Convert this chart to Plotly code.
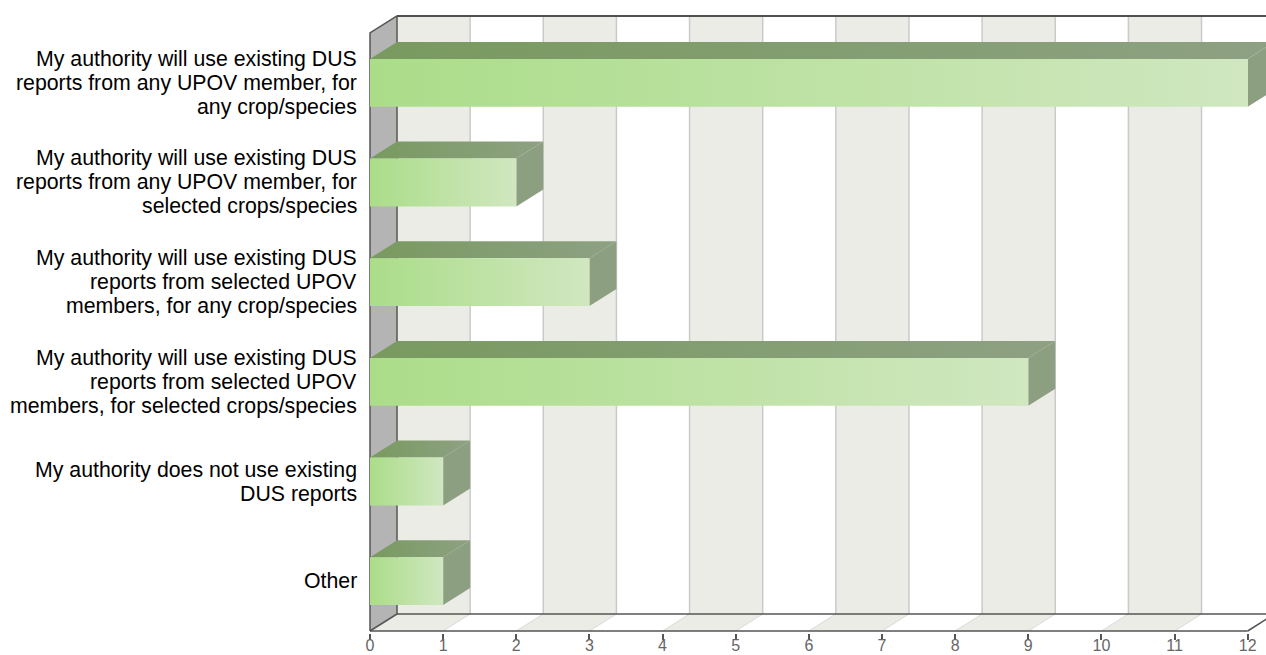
import plotly.graph_objects as go

# ---------------- data ----------------
categories = [
    "My authority will use existing DUS<br>reports from any UPOV member, for<br>any crop/species",
    "My authority will use existing DUS<br>reports from any UPOV member, for<br>selected crops/species",
    "My authority will use existing DUS<br>reports from selected UPOV<br>members, for any crop/species",
    "My authority will use existing DUS<br>reports from selected UPOV<br>members, for selected crops/species",
    "My authority does not use existing<br>DUS reports",
    "Other",
]
values = [12, 2, 3, 9, 1, 1]
x_ticks = list(range(0, 13))

# ---------------- geometry / style ----------------
W, HGT = 1266, 655
PX_X = 73.14          # px per x unit
PX_Y = 99.67          # px per category
DX = 27 / PX_X        # depth offset (x units)
DY = 17 / PX_Y        # depth offset (category units)
HALF = 0.24           # bar half height (category units)
N = len(categories)
XMAX = max(x_ticks)

ML, MR, MT, MB = 368, 0, 14, 22
X0_PX, Y0_PX = 370, 631   # pixel of data origin
x_range = [-(X0_PX - ML) / PX_X, (W - MR - X0_PX) / PX_X]
y_range = [-((HGT - MB) - Y0_PX) / PX_Y, (Y0_PX - MT) / PX_Y]

fig = go.Figure()


def poly(xs, ys, **kw):
    fig.add_trace(go.Scatter(x=list(xs) + [xs[0]], y=list(ys) + [ys[0]], mode="lines",
                             fill="toself", hoverinfo="skip", showlegend=False, **kw))


def lines(segs, color, width):
    xs, ys = [], []
    for (x0, y0, x1, y1) in segs:
        xs += [x0, x1, None]
        ys += [y0, y1, None]
    fig.add_trace(go.Scatter(x=xs, y=ys, mode="lines", line=dict(color=color, width=width),
                             hoverinfo="skip", showlegend=False))


BAND = "#ECECE6"
# back wall
poly([DX, XMAX + DX, XMAX + DX, DX], [DY, DY, N + DY, N + DY], fillcolor="white", line=dict(width=0))
for k in range(0, XMAX, 2):
    poly([k + DX, k + 1 + DX, k + 1 + DX, k + DX], [DY, DY, N + DY, N + DY],
         fillcolor=BAND, line=dict(width=0))
    # floor band
    poly([k, k + 1, k + 1 + DX, k + DX], [0, 0, DY, DY], fillcolor=BAND, line=dict(width=0))

# grid lines on wall and floor
lines([(k + DX, DY, k + DX, N + DY) for k in x_ticks[1:]], "#CACACA", 1.5)
lines([(k, 0, k + DX, DY) for k in x_ticks[1:-1]], "#DADADA", 1)

# left wall
poly([0, DX, DX, 0], [0, DY, N + DY, N], fillcolor="#B4B4B4", line=dict(color="#555555", width=1.5))

# frame lines
lines([(DX, N + DY, XMAX + DX, N + DY)], "#505050", 2)
lines([(DX, DY, XMAX + DX, DY), (0, 0, XMAX, 0), (XMAX, 0, XMAX + DX, DY)], "#555555", 1.5)

# bars
for i, v in enumerate(values):
    c = N - 0.5 - i
    # right face
    poly([v, v + DX, v + DX, v], [c - HALF, c - HALF + DY, c + HALF + DY, c + HALF],
         fillcolor="#8C9F81", line=dict(width=0))
    # top face
    poly([0, v, v + DX, DX], [c + HALF, c + HALF, c + HALF + DY, c + HALF + DY],
         fillgradient=dict(type="horizontal", colorscale=[[0, "#789A5F"], [1, "#8EA183"]]),
         line=dict(width=0))
    # front face
    poly([0, v, v, 0], [c - HALF, c - HALF, c + HALF, c + HALF],
         fillgradient=dict(type="horizontal", colorscale=[[0, "#ABDD89"], [1, "#D0E7C0"]]),
         line=dict(width=0))

# category labels (one annotation per line, right aligned, 24 px line spacing)
LINE_PX = 24
for i, cat in enumerate(categories):
    c = N - 0.5 - i
    parts = cat.split("<br>")
    n = len(parts)
    for j, txt in enumerate(parts):
        fig.add_annotation(x=0, y=c, xref="x", yref="y", text=txt, showarrow=False,
                           xanchor="right", yanchor="middle", xshift=-11,
                           yshift=((n - 1) / 2 - j) * LINE_PX,
                           font=dict(family="Liberation Sans, Arial", size=21.3, color="#000000"))

fig.update_layout(
    width=W, height=HGT,
    margin=dict(l=ML, r=MR, t=MT, b=MB, pad=0, autoexpand=False),
    paper_bgcolor="white", plot_bgcolor="white",
    showlegend=False,
    xaxis=dict(range=x_range, tickvals=x_ticks, ticktext=[str(t) for t in x_ticks],
               ticks="outside", ticklen=6, tickcolor="#555555", tickwidth=1.5,
               ticklabelstandoff=-8,
               tickfont=dict(family="Liberation Sans, Arial", size=16, color="#666666"),
               showgrid=False, zeroline=False, showline=False, fixedrange=True,
               automargin=False),
    yaxis=dict(range=y_range, showticklabels=False, ticks="",
               showgrid=False, zeroline=False, showline=False, fixedrange=True,
               automargin=False),
)

fig.write_html("out.html", config={"displayModeBar": False},
               post_script="document.body.style.margin='0';document.body.style.overflow='hidden';")
